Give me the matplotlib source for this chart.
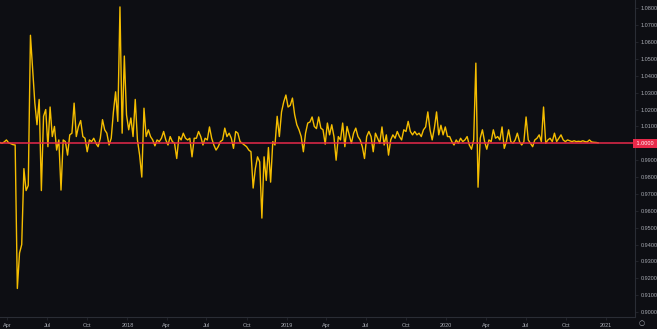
"""
Ratio chart, dark trading-terminal style
"""
import matplotlib
matplotlib.use('Agg')
import matplotlib.pyplot as plt
import matplotlib.dates as mdates
import matplotlib.transforms as mtransforms
import numpy as np
import pandas as pd

# data: one reading every 5 days starting mid March 2017
start_date = '2017-03-15'
step = '5D'
ratio = [
    1.0005, 1.0000, 1.0008, 1.0020, 1.0003, 0.9998, 0.9992, 0.9990, 0.9140, 0.9350,
    0.9400, 0.9850, 0.9720, 0.9750, 1.0640, 1.0440, 1.0240, 1.0110, 1.0260, 0.9720,
    1.0160, 1.0200, 0.9980, 1.0215, 1.0040, 1.0100, 0.9960, 1.0020, 0.9723, 1.0020,
    1.0010, 0.9930, 1.0050, 1.0060, 1.0238, 1.0040, 1.0100, 1.0135, 1.0040, 1.0030,
    0.9950, 1.0020, 1.0010, 1.0030, 1.0000, 0.9980, 1.0030, 1.0140, 1.0080, 1.0060,
    0.9990, 1.0030, 1.0186, 1.0305, 1.0130, 1.0808, 1.0060, 1.0517, 1.0168, 1.0080,
    1.0150, 1.0040, 1.0260, 1.0020, 0.9930, 0.9800, 1.0208, 1.0040, 1.0080, 1.0040,
    1.0020, 0.9985, 1.0020, 1.0010, 1.0030, 1.0070, 1.0020, 0.9990, 1.0040, 1.0010,
    1.0000, 0.9910, 1.0040, 1.0020, 1.0060, 1.0030, 1.0020, 1.0030, 0.9920, 1.0030,
    1.0030, 1.0070, 1.0040, 0.9990, 1.0030, 1.0020, 1.0097, 1.0030, 0.9990, 0.9960,
    0.9980, 1.0010, 1.0020, 1.0090, 1.0040, 1.0060, 1.0030, 0.9970, 1.0070, 1.0060,
    1.0010, 1.0000, 0.9990, 0.9980, 0.9960, 0.9950, 0.9735, 0.9850, 0.9920, 0.9890,
    0.9557, 0.9920, 0.9780, 0.9975, 0.9770, 1.0010, 0.9990, 1.0160, 1.0040, 1.0186,
    1.0245, 1.0286, 1.0215, 1.0225, 1.0268, 1.0170, 1.0110, 1.0080, 1.0040, 0.9950,
    1.0060, 1.0120, 1.0126, 1.0156, 1.0100, 1.0087, 1.0156, 1.0090, 1.0080, 0.9995,
    1.0120, 1.0050, 1.0110, 1.0040, 0.9900, 1.0040, 1.0020, 1.0120, 0.9980, 1.0100,
    1.0050, 1.0000, 1.0060, 1.0090, 1.0040, 1.0020, 0.9980, 0.9910, 1.0040, 1.0070,
    1.0040, 0.9950, 1.0060, 1.0030, 1.0000, 1.0097, 0.9990, 1.0050, 0.9930, 1.0020,
    1.0050, 1.0030, 1.0070, 1.0040, 1.0020, 1.0080, 1.0070, 1.0130, 1.0070, 1.0050,
    1.0070, 1.0050, 1.0060, 1.0040, 1.0080, 1.0097, 1.0186, 1.0080, 1.0020, 1.0090,
    1.0186, 1.0050, 1.0107, 1.0050, 1.0097, 1.0040, 1.0040, 1.0010, 0.9990, 1.0020,
    1.0000, 1.0030, 1.0010, 1.0020, 1.0040, 0.9990, 0.9965, 1.0020, 1.0475, 0.9740,
    1.0030, 1.0080, 1.0010, 0.9965, 1.0020, 1.0010, 1.0080, 1.0030, 1.0040, 1.0020,
    1.0097, 0.9970, 1.0010, 1.0080, 1.0010, 1.0000, 1.0020, 1.0060, 1.0010, 0.9990,
    1.0010, 1.0156, 1.0020, 1.0000, 0.9980, 1.0020, 1.0030, 1.0050, 1.0010, 1.0215,
    1.0000, 1.0020, 1.0030, 1.0010, 1.0060, 1.0010, 1.0030, 1.0050, 1.0020, 1.0010,
    1.0020, 1.0015, 1.0010, 1.0015, 1.0010, 1.0012, 1.0010, 1.0015, 1.0010, 1.0008,
    1.0020, 1.0008, 1.0006, 1.0005, 1.0003,
]
baseline = 1.0
# 1.0000 itself is shown by the red price label
y_ticks = [0.90, 0.91, 0.92, 0.93, 0.94, 0.95, 0.96, 0.97, 0.98, 0.99,
           1.01, 1.02, 1.03, 1.04, 1.05, 1.06, 1.07, 1.08]

bg = '#0d0e13'
line_col = '#f5bd00'
red = '#e8294a'
txt = '#a8abb3'
sep = '#2a2d35'

dates = pd.date_range(start_date, periods=len(ratio), freq=step)

fig = plt.figure(figsize=(6.57, 3.29), dpi=100, facecolor=bg)
ax = fig.add_axes([0, 12 / 329, 635 / 657, 317 / 329])
ax.set_facecolor(bg)

ax.plot(dates, ratio, color=line_col, linewidth=1.0, zorder=3)
ax.axhline(baseline, color=red, linewidth=1.1, zorder=4)

# axis ranges (about 2.29 days per pixel)
left = pd.Timestamp('2017-04-01') - pd.Timedelta(days=7.3 * 2.29)
right = left + pd.Timedelta(days=635 * 2.29)
ax.set_xlim(left, right)
ax.set_ylim(0.8971, 1.0849)

# quarterly ticks, year shown on January
ax.xaxis.set_major_locator(mdates.MonthLocator(bymonth=[1, 4, 7, 10]))
def qfmt(x, pos=None):
    d = mdates.num2date(x)
    return str(d.year) if d.month == 1 else d.strftime('%b')
ax.xaxis.set_major_formatter(plt.FuncFormatter(qfmt))

ax.yaxis.tick_right()
ax.set_yticks(y_ticks)
ax.yaxis.set_major_formatter(plt.FormatStrFormatter('%.4f'))

for s in ['top', 'left']:
    ax.spines[s].set_visible(False)
ax.spines['right'].set_color(sep)
ax.spines['bottom'].set_color(sep)
ax.tick_params(axis='both', colors=txt, labelsize=4, length=2, width=0.5, pad=2)
ax.tick_params(axis='y', color=sep)
ax.tick_params(axis='x', color=sep)
for lab in ax.get_xticklabels() + ax.get_yticklabels():
    lab.set_fontfamily('Liberation Sans')

# red price label on the right axis
trans = mtransforms.blended_transform_factory(ax.transAxes, ax.transData)
ax.text(1.0, baseline, ' 1.0000 ', transform=trans, ha='left', va='center',
        fontsize=4, color='white', family='Liberation Sans', zorder=6,
        bbox=dict(boxstyle='square,pad=0.35', facecolor=red, edgecolor='none'),
        clip_on=False)

fig.text(1 - 15 / 657, 1 - 323 / 329, '○', color=txt, fontsize=5,
         ha='center', va='center')

plt.savefig('out.png', dpi=100, facecolor=bg)
